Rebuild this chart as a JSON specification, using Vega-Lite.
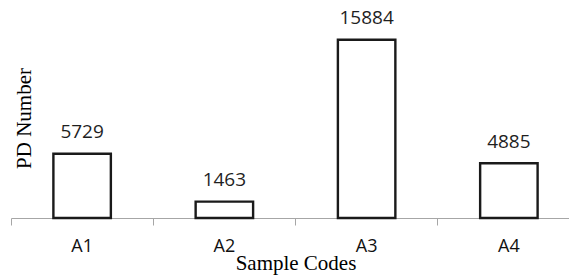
{
  "$schema": "https://vega.github.io/schema/vega-lite/v6.json",
  "autosize": "none",
  "width": 569,
  "height": 202,
  "padding": {"left": 11, "top": 16, "right": 0, "bottom": 57},
  "background": "white",
  "config": {"view": {"stroke": null}},
  "data": {"values": [
    {"code": "A1", "count": 5729},
    {"code": "A2", "count": 1463},
    {"code": "A3", "count": 15884},
    {"code": "A4", "count": 4885}
  ]},
  "encoding": {
    "x": {
      "field": "code", "type": "nominal", "sort": null,
      "scale": {"paddingInner": 0, "paddingOuter": 0},
      "axis": {
        "title": "Sample Codes",
        "titleFont": "Liberation Serif", "titleFontSize": 21, "titleFontWeight": "normal", "titleColor": "#000000",
        "titleBaseline": "alphabetic", "titleY": 51.5,
        "labelAngle": 0, "labelFont": "Open Sans", "labelFontSize": 18, "labelColor": "#111111",
        "labelPadding": 12.5, "labelBaseline": "top",
        "bandPosition": 0, "tickSize": 7, "tickColor": "#a6a6a6", "tickWidth": 1,
        "domainColor": "#a6a6a6", "domainWidth": 1.2, "grid": false
      }
    },
    "y": {
      "field": "count", "type": "quantitative",
      "scale": {"domain": [0, 18000], "nice": false},
      "axis": {
        "title": "PD Number", "titleFont": "Liberation Serif", "titleFontSize": 21, "titleFontWeight": "normal", "titleColor": "#000000",
        "titleAngle": -90, "titleBaseline": "middle", "titleAlign": "center", "titleX": 13.5, "titleY": 102,
        "labels": false, "ticks": false, "domain": false, "grid": false
      }
    }
  },
  "layer": [
    {
      "mark": {"type": "bar", "width": {"band": 0.404}, "fill": "white", "stroke": "#1a1a1a", "strokeWidth": 2.4}
    },
    {
      "mark": {"type": "text", "baseline": "alphabetic", "dy": -15.5, "font": "Open Sans", "fontSize": 19, "color": "#1f1f1f"},
      "encoding": {"text": {"field": "count", "type": "quantitative", "format": "d"}}
    }
  ]
}
